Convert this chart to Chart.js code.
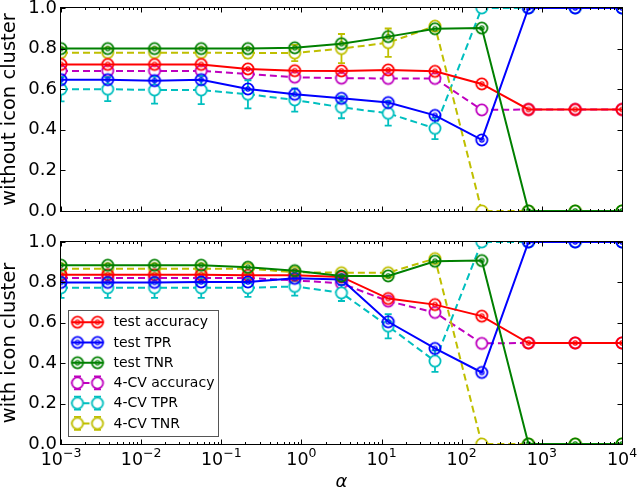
<!DOCTYPE html>
<html>
<head>
<meta charset="utf-8">
<title>alpha sweep</title>
<script src="https://cdn.jsdelivr.net/npm/chart.js@4.4.0/dist/chart.umd.min.js"></script>
<style>
  html, body { margin: 0; padding: 0; background: #fff; }
  #wrap { position: relative; width: 640px; height: 492px; }
  canvas { position: absolute; left: 0; display: block; }
  #topChart { top: 0; }
  #botChart { top: 226px; }
</style>
</head>
<body>
<div id="wrap">
  <canvas id="topChart" width="640" height="226"></canvas>
  <canvas id="botChart" width="640" height="266"></canvas>
</div>
<script>
/* ----------------------------------------------------------
   DATA
---------------------------------------------------------- */
const alphas = [0.001, 0.00383, 0.0147, 0.0562, 0.215, 0.825, 3.16, 12.1, 46.4, 178, 681, 2610, 10000];
const xTickExps = [-3, -2, -1, 0, 1, 2, 3, 4];
const yTicks = [0, 0.2, 0.4, 0.6, 0.8, 1.0];
const seriesLabels = ["test accuracy", "test TPR", "test TNR", "4-CV accuracy", "4-CV TPR", "4-CV TNR"];

// top panel: without icon cluster
const noIconTestAcc = [0.722, 0.722, 0.722, 0.722, 0.700, 0.691, 0.690, 0.695, 0.688, 0.626, 0.500, 0.500, 0.500];
const noIconTestTPR = [0.647, 0.647, 0.642, 0.647, 0.601, 0.575, 0.555, 0.534, 0.471, 0.350, 1.0, 1.0, 1.0];
const noIconTestTNR = [0.800, 0.800, 0.800, 0.800, 0.800, 0.804, 0.824, 0.859, 0.898, 0.901, 0.0, 0.0, 0.0];
const noIconCvAcc = [0.690, 0.690, 0.690, 0.690, 0.675, 0.659, 0.654, 0.653, 0.653, 0.498, 0.500, 0.500, 0.500];
const noIconCvAccErr = [0.010, 0.010, 0.010, 0.010, 0.012, 0.012, 0.012, 0.012, 0.012, 0, 0, 0, 0];
const noIconCvTPR = [0.600, 0.600, 0.596, 0.596, 0.575, 0.547, 0.511, 0.481, 0.407, 1.0, 1.0, 1.0, 1.0];
const noIconCvTPRErr = [0.060, 0.059, 0.067, 0.070, 0.069, 0.057, 0.054, 0.060, 0.053, 0, 0, 0, 0];
const noIconCvTNR = [0.780, 0.780, 0.780, 0.780, 0.778, 0.778, 0.800, 0.829, 0.911, 0.0, 0.0, 0.0, 0.0];
const noIconCvTNRErr = [0.010, 0.010, 0.010, 0.010, 0.025, 0.040, 0.072, 0.070, 0.012, 0, 0, 0, 0];

// bottom panel: with icon cluster
const iconTestAcc = [0.838, 0.838, 0.838, 0.838, 0.835, 0.835, 0.827, 0.720, 0.690, 0.633, 0.500, 0.500, 0.500];
const iconTestTPR = [0.800, 0.800, 0.800, 0.802, 0.802, 0.820, 0.814, 0.605, 0.473, 0.354, 1.0, 1.0, 1.0];
const iconTestTNR = [0.885, 0.885, 0.885, 0.885, 0.875, 0.858, 0.832, 0.832, 0.905, 0.908, 0.0, 0.0, 0.0];
const iconCvAcc = [0.822, 0.822, 0.822, 0.822, 0.822, 0.810, 0.795, 0.707, 0.651, 0.498, 0.500, 0.500, 0.500];
const iconCvAccErr = [0.008, 0.008, 0.008, 0.008, 0.008, 0.010, 0.012, 0.012, 0.012, 0, 0, 0, 0];
const iconCvTPR = [0.773, 0.773, 0.773, 0.773, 0.773, 0.780, 0.748, 0.583, 0.410, 1.0, 1.0, 1.0, 1.0];
const iconCvTPRErr = [0.050, 0.050, 0.050, 0.050, 0.045, 0.045, 0.040, 0.060, 0.053, 0, 0, 0, 0];
const iconCvTNR = [0.868, 0.868, 0.868, 0.868, 0.868, 0.850, 0.848, 0.848, 0.918, 0.0, 0.0, 0.0, 0.0];
const iconCvTNRErr = [0.008, 0.008, 0.008, 0.008, 0.008, 0.010, 0.012, 0.012, 0.010, 0, 0, 0, 0];

/* ----------------------------------------------------------
   STYLE
---------------------------------------------------------- */
const FONT = "DejaVu Sans";
const seriesColors = ["#ff0000", "#0000ff", "#008000", "#bf00bf", "#00bfbf", "#bfbf00"];

// ring marker drawn once, used as pointStyle image
function ringMarker(color, inner, fill) {
  const c = document.createElement("canvas");
  c.width = 16; c.height = 16;
  const g = c.getContext("2d");
  g.strokeStyle = color;
  g.lineWidth = 1.8;
  g.beginPath();
  g.arc(8, 8, 5.6, 0, Math.PI * 2);
  if (fill) { g.fillStyle = fill; g.fill(); }
  g.stroke();
  if (inner) {
    g.lineWidth = 1.3;
    g.beginPath();
    g.arc(8, 8, 2.1, 0, Math.PI * 2);
    g.stroke();
  }
  return c;
}

function makeSet(idx, ys, errs, order) {
  const cv = idx >= 3;
  const color = seriesColors[idx];
  return {
    label: seriesLabels[idx],
    data: alphas.map((a, i) => ({ x: a, y: ys[i] })),
    borderColor: color,
    backgroundColor: color,
    borderWidth: 2,
    borderDash: cv ? [7, 4] : [],
    pointStyle: cv ? ringMarker(color, false, "#fff") : ringMarker(color, true, null),
    pointRadius: 6,
    pointHoverRadius: 6,
    tension: 0,
    fill: false,
    clip: 0,
    order: order,
    errors: errs
  };
}

function panelSets(tAcc, tTpr, tTnr, cAcc, cAccE, cTpr, cTprE, cTnr, cTnrE) {
  return [
    makeSet(0, tAcc, null, 3),
    makeSet(1, tTpr, null, 2),
    makeSet(2, tTnr, null, 1),
    makeSet(3, cAcc, cAccE, 6),
    makeSet(4, cTpr, cTprE, 5),
    makeSet(5, cTnr, cTnrE, 4)
  ];
}

/* ----------------------------------------------------------
   PLUGINS (error bars, frame + inward ticks, x labels, legend)
---------------------------------------------------------- */
function drawErr(ctx, x, yTop, yBot, color) {
  ctx.strokeStyle = color;
  ctx.lineWidth = 1.8;
  ctx.setLineDash([]);
  ctx.beginPath();
  ctx.moveTo(x, yTop); ctx.lineTo(x, yBot);
  ctx.moveTo(x - 3.5, yTop); ctx.lineTo(x + 3.5, yTop);
  ctx.moveTo(x - 3.5, yBot); ctx.lineTo(x + 3.5, yBot);
  ctx.stroke();
}

const errorBars = {
  id: "errorBars",
  beforeDatasetDraw(chart, args) {
    const ds = chart.data.datasets[args.index];
    if (!ds.errors) return;
    const { ctx, chartArea: a, scales: { y } } = chart;
    ctx.save();
    ctx.beginPath();
    ctx.rect(a.left, a.top, a.width, a.height);
    ctx.clip();
    args.meta.data.forEach((pt, i) => {
      const e = ds.errors[i];
      if (!e) return;
      const v = ds.data[i].y;
      drawErr(ctx, pt.x, y.getPixelForValue(v + e), y.getPixelForValue(v - e), ds.borderColor);
    });
    ctx.restore();
  }
};

const frame = {
  id: "frame",
  afterDatasetsDraw(chart) {
    const { ctx, chartArea: a, scales: { x, y } } = chart;
    const L = Math.round(a.left) - 0.5, R = Math.round(a.right) + 0.5;
    const T = Math.round(a.top) - 0.5, B = Math.round(a.bottom) + 0.5;
    ctx.save();
    ctx.strokeStyle = "#000";
    ctx.lineWidth = 1;
    ctx.setLineDash([]);
    ctx.beginPath();
    for (let e = xTickExps[0]; e <= xTickExps[xTickExps.length - 1]; e++) {
      for (let m = 1; m <= 9; m++) {
        const v = m * Math.pow(10, e);
        if (v > 1.0001e4) break;
        const px = Math.round(x.getPixelForValue(v)) + 0.5;
        const len = m === 1 ? 5 : 2.5;
        ctx.moveTo(px, B); ctx.lineTo(px, B - len);
        ctx.moveTo(px, T); ctx.lineTo(px, T + len);
      }
    }
    yTicks.forEach(v => {
      const py = Math.round(y.getPixelForValue(v)) + 0.5;
      ctx.moveTo(L, py); ctx.lineTo(L + 5, py);
      ctx.moveTo(R, py); ctx.lineTo(R - 5, py);
    });
    ctx.stroke();
    ctx.strokeRect(L, T, R - L, B - T);
    ctx.restore();
  }
};

const powerLabels = {
  id: "powerLabels",
  afterDraw(chart) {
    const { ctx, chartArea: a, scales: { x } } = chart;
    ctx.save();
    ctx.fillStyle = "#000";
    ctx.textBaseline = "alphabetic";
    ctx.textAlign = "left";
    xTickExps.forEach(e => {
      const px = x.getPixelForValue(Math.pow(10, e));
      const base = "10";
      const exp = e < 0 ? "\u2212" + (-e) : String(e);
      ctx.font = "17.5px '" + FONT + "'";
      const wb = ctx.measureText(base).width;
      ctx.font = "12.5px '" + FONT + "'";
      const we = ctx.measureText(exp).width;
      const start = px - (wb + we) / 2;
      ctx.font = "17.5px '" + FONT + "'";
      ctx.fillText(base, start, a.bottom + 21);
      ctx.font = "12.5px '" + FONT + "'";
      ctx.fillText(exp, start + wb, a.bottom + 13);
    });
    ctx.restore();
  }
};

const boxLegend = {
  id: "boxLegend",
  afterDraw(chart) {
    const { ctx, chartArea: a } = chart;
    const w = 150, h = 126;
    const left = Math.round(a.left) + 7.5, top = Math.round(a.bottom) - 7.5 - h;
    ctx.save();
    ctx.fillStyle = "#fff";
    ctx.fillRect(left, top, w, h);
    ctx.strokeStyle = "#555";
    ctx.lineWidth = 1;
    ctx.strokeRect(left, top, w, h);
    chart.data.datasets.forEach((ds, i) => {
      const cy = top + 11.7 + 20.25 * i;
      const m1 = left + 9, m2 = left + 29;
      if (ds.errors) {
        drawErr(ctx, m1, cy - 6.5, cy + 6.5, ds.borderColor);
        drawErr(ctx, m2, cy - 6.5, cy + 6.5, ds.borderColor);
      }
      ctx.strokeStyle = ds.borderColor;
      ctx.lineWidth = 2;
      ctx.setLineDash(ds.borderDash);
      ctx.beginPath();
      ctx.moveTo(left + 3, cy); ctx.lineTo(left + 35, cy);
      ctx.stroke();
      ctx.setLineDash([]);
      const img = ds.pointStyle;
      ctx.drawImage(img, m1 - img.width / 2, cy - img.height / 2);
      ctx.drawImage(img, m2 - img.width / 2, cy - img.height / 2);
      ctx.fillStyle = "#000";
      ctx.font = "14px '" + FONT + "'";
      ctx.textBaseline = "middle";
      ctx.fillText(ds.label, left + 45, cy + 0.5);
    });
    ctx.restore();
  }
};

/* ----------------------------------------------------------
   CHART FACTORY
---------------------------------------------------------- */
function buildPanel(canvasId, yTitle, datasets, isBottom) {
  const xScale = {
    type: "logarithmic",
    min: 1e-3,
    max: 1e4,
    grid: { display: false, drawTicks: false },
    border: { display: false },
    ticks: { display: false },
    afterFit: s => {
      s.height = isBottom ? 48 : 15;
      s.paddingLeft = 0; s.paddingRight = 0;
    },
    title: {
      display: isBottom,
      text: "\u03b1",
      color: "#000",
      font: { family: FONT, size: 18, style: "italic", lineHeight: 1 },
      padding: { top: 0, bottom: 0.5 }
    }
  };

  const yScale = {
    min: 0,
    max: 1,
    grid: { display: false, drawTicks: false },
    border: { display: false },
    afterBuildTicks: s => { s.ticks = yTicks.map(v => ({ value: v })); },
    afterFit: s => {
      s.width = 61;
      s.paddingTop = 0; s.paddingBottom = 0;
    },
    ticks: {
      color: "#000",
      padding: 4,
      font: { family: FONT, size: 18 },
      callback: v => Number(v).toFixed(1)
    },
    title: {
      display: true,
      text: yTitle,
      color: "#000",
      font: { family: FONT, size: 19.5, lineHeight: 1.05 },
      padding: { top: 0, bottom: 0 }
    }
  };

  const plugins = [errorBars, frame];
  if (isBottom) plugins.push(powerLabels, boxLegend);

  return new Chart(document.getElementById(canvasId), {
    type: "line",
    data: { datasets: datasets },
    options: {
      responsive: false,
      animation: false,
      devicePixelRatio: 1,
      layout: {
        autoPadding: false,
        padding: { left: 0, right: 18, top: isBottom ? 16 : 8, bottom: 0 }
      },
      scales: { x: xScale, y: yScale },
      plugins: {
        legend: { display: false },
        tooltip: { enabled: false }
      }
    },
    plugins: plugins
  });
}

/* ----------------------------------------------------------
   RENDER
---------------------------------------------------------- */
buildPanel("topChart", "without icon cluster",
  panelSets(noIconTestAcc, noIconTestTPR, noIconTestTNR,
            noIconCvAcc, noIconCvAccErr, noIconCvTPR, noIconCvTPRErr, noIconCvTNR, noIconCvTNRErr),
  false);

buildPanel("botChart", "with icon cluster",
  panelSets(iconTestAcc, iconTestTPR, iconTestTNR,
            iconCvAcc, iconCvAccErr, iconCvTPR, iconCvTPRErr, iconCvTNR, iconCvTNRErr),
  true);
</script>
</body>
</html>
